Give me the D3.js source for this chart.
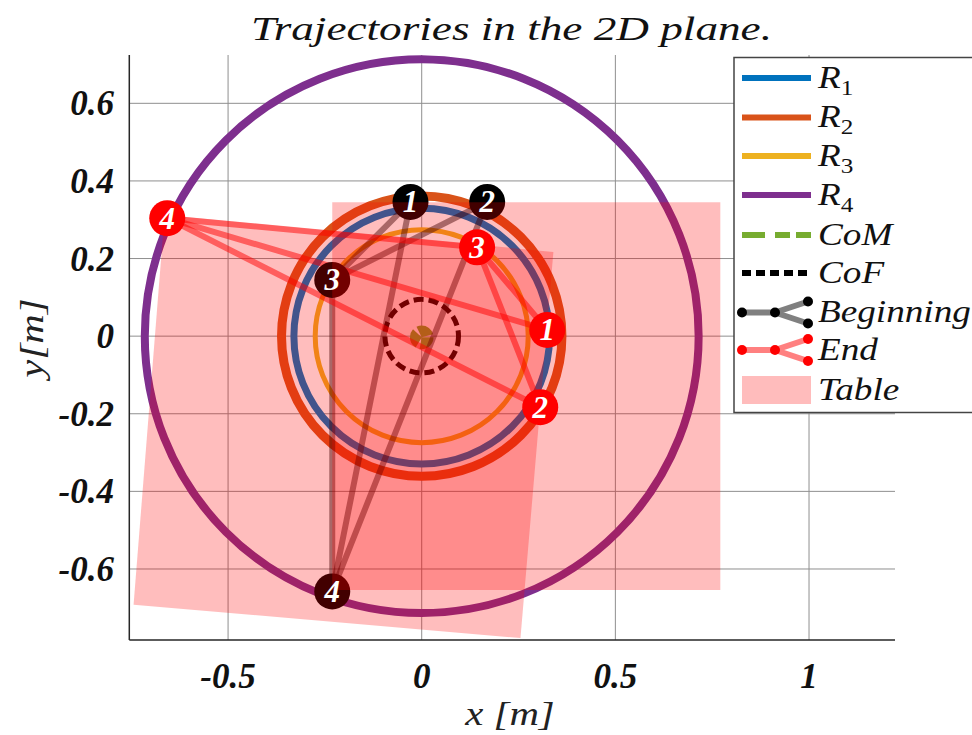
<!DOCTYPE html>
<html>
<head>
<meta charset="utf-8">
<script src="https://cdn.jsdelivr.net/npm/d3@7"></script>
<style>
  html, body { margin: 0; padding: 0; background: #ffffff; }
  svg { display: block; }
</style>
</head>
<body>
<svg id="chart" width="972" height="735"></svg>
<script>
// ---- data -------------------------------------------------------------
const robotNames   = ["R1", "R2", "R3", "R4"];
const robotRadii   = [0.330, 0.362, 0.275, 0.715];   // circular trajectories, centred at origin
const comRadius    = 0.015;                           // centre of mass trajectory
const cofRadius    = 0.095;                           // centre of formation trajectory

const contactIds   = [1, 2, 3, 4];
const beginX       = [-0.029, 0.169, -0.231, -0.231];
const beginY       = [ 0.346, 0.346,  0.145, -0.658];
const endX         = [ 0.324, 0.306,  0.143, -0.657];
const endY         = [ 0.016, -0.183, 0.229,  0.304];
const contactLinks = [[4, 1], [4, 2], [4, 3], [3, 1], [3, 2]];

const beginTableX  = [-0.231, 0.771, 0.771, -0.231];
const beginTableY  = [ 0.345, 0.345, -0.654, -0.654];
const endTableX    = [-0.664, 0.340, 0.255, -0.744];
const endTableY    = [ 0.312, 0.217, -0.778, -0.692];

const xTicks       = [-0.5, 0, 0.5, 1];
const xTickLabels  = ["-0.5", "0", "0.5", "1"];
const yTicks       = [-0.6, -0.4, -0.2, 0, 0.2, 0.4, 0.6];
const yTickLabels  = ["-0.6", "-0.4", "-0.2", "0", "0.2", "0.4", "0.6"];
const xDomain      = [-0.755, 1.222];
const yDomain      = [-0.783, 0.7245];

// ---- styles -----------------------------------------------------------
const robotColors  = ["#0072BD", "#D95319", "#EDB120", "#7E2F8E"];
const robotWidths  = [7, 9, 5, 8];
const comColor     = "#77AC30";
const tableFill    = "rgba(255,0,0,0.26)";
const mathFont     = "'Liberation Serif', 'Times New Roman', serif";
const tickFont     = "'Liberation Serif', 'Times New Roman', serif";
const mathStretch  = 1.2;   // widen Times italic towards a Computer Modern look

const plot = { left: 129.3, right: 895, top: 55, bottom: 640 };

const svg = d3.select("#chart");
const x = d3.scaleLinear().domain(xDomain).range([plot.left, plot.right]);
const y = d3.scaleLinear().domain(yDomain).range([plot.bottom, plot.top]);
const pxPerUnit = x(1) - x(0);

// horizontal stretch of a text element about a fixed x position
function stretchX(sel, cx, k) {
  sel.attr("transform", `translate(${cx},0) scale(${k},1) translate(${-cx},0)`);
}

svg.append("defs").append("clipPath").attr("id", "plotClip")
  .append("rect")
  .attr("x", plot.left).attr("y", plot.top)
  .attr("width", plot.right - plot.left).attr("height", plot.bottom - plot.top);

// ---- grid -------------------------------------------------------------
const grid = svg.append("g");
grid.selectAll("line.gx").data(xTicks).join("line")
  .attr("x1", d => x(d)).attr("x2", d => x(d))
  .attr("y1", plot.top).attr("y2", plot.bottom)
  .attr("stroke", "#8f8f8f").attr("stroke-width", 1);
grid.selectAll("line.gy").data(yTicks).join("line")
  .attr("x1", plot.left).attr("x2", plot.right)
  .attr("y1", d => y(d)).attr("y2", d => y(d))
  .attr("stroke", "#8f8f8f").attr("stroke-width", 1);

const layer = svg.append("g").attr("clip-path", "url(#plotClip)");

// ---- robot trajectories -------------------------------------------------
layer.selectAll("circle.robot").data(robotNames).join("circle")
  .attr("cx", x(0)).attr("cy", y(0))
  .attr("r", (d, i) => robotRadii[i] * pxPerUnit)
  .attr("fill", "none")
  .attr("stroke", (d, i) => robotColors[i])
  .attr("stroke-width", (d, i) => robotWidths[i]);

// centre of mass and centre of formation
layer.append("circle")
  .attr("cx", x(0)).attr("cy", y(-0.003)).attr("r", comRadius * pxPerUnit)
  .attr("fill", "none").attr("stroke", comColor).attr("stroke-width", 12)
  .attr("stroke-dasharray", "10,2");
layer.append("circle")
  .attr("cx", x(0)).attr("cy", y(0)).attr("r", cofRadius * pxPerUnit)
  .attr("fill", "none").attr("stroke", "#000").attr("stroke-width", 5)
  .attr("stroke-dasharray", "10,5");

// ---- contact configurations ------------------------------------------
function drawConfig(xs, ys, lineColor) {
  layer.append("g").selectAll("line").data(contactLinks).join("line")
    .attr("x1", d => x(xs[d[0] - 1])).attr("y1", d => y(ys[d[0] - 1]))
    .attr("x2", d => x(xs[d[1] - 1])).attr("y2", d => y(ys[d[1] - 1]))
    .attr("stroke", lineColor).attr("stroke-width", 6)
    .attr("stroke-linecap", "round");
}
drawConfig(beginX, beginY, "rgba(0,0,0,0.45)");
drawConfig(endX, endY, "rgba(255,0,0,0.5)");

function drawMarkers(xs, ys, color) {
  layer.append("g").selectAll("circle").data(contactIds).join("circle")
    .attr("cx", (d, i) => x(xs[i])).attr("cy", (d, i) => y(ys[i]))
    .attr("r", 18).attr("fill", color);
}
drawMarkers(beginX, beginY, "#000000");
drawMarkers(endX, endY, "#ff0000");

// ---- tables (semi-transparent, drawn over the trajectories) ------------
const polyLine = d3.line().x(d => x(d[0])).y(d => y(d[1]));
[[beginTableX, beginTableY], [endTableX, endTableY]].forEach(([tx, ty]) => {
  const pts = tx.map((v, i) => [v, ty[i]]);
  layer.append("path").attr("d", polyLine(pts) + "Z").attr("fill", tableFill);
});

// marker numbers
function drawNumbers(xs, ys) {
  layer.append("g").selectAll("text").data(contactIds).join("text")
    .attr("x", (d, i) => x(xs[i])).attr("y", (d, i) => y(ys[i]) + 10.5)
    .attr("text-anchor", "middle")
    .attr("font-family", tickFont).attr("font-style", "italic").attr("font-weight", "bold")
    .attr("font-size", 31).attr("fill", "#ffffff")
    .text(d => d);
}
drawNumbers(beginX, beginY);
drawNumbers(endX, endY);

// ---- axes -------------------------------------------------------------
const axes = svg.append("g");
axes.append("line").attr("x1", plot.left).attr("x2", plot.left)
  .attr("y1", plot.top).attr("y2", plot.bottom)
  .attr("stroke", "#262626").attr("stroke-width", 1.5);
axes.append("line").attr("x1", plot.left).attr("x2", plot.right)
  .attr("y1", plot.bottom).attr("y2", plot.bottom)
  .attr("stroke", "#262626").attr("stroke-width", 1.5);

axes.selectAll("text.xt").data(xTicks).join("text")
  .attr("x", d => x(d)).attr("y", 688)
  .attr("text-anchor", "middle")
  .attr("font-family", tickFont).attr("font-style", "italic").attr("font-weight", "bold")
  .attr("font-size", 35).attr("fill", "#111")
  .text((d, i) => xTickLabels[i]);
axes.selectAll("text.yt").data(yTicks).join("text")
  .attr("x", 114).attr("y", d => y(d) + 12)
  .attr("text-anchor", "end")
  .attr("font-family", tickFont).attr("font-style", "italic").attr("font-weight", "bold")
  .attr("font-size", 35).attr("fill", "#111")
  .text((d, i) => yTickLabels[i]);

// chart title, stretched to its full width
const title = svg.append("text").attr("x", 511.5).attr("y", 40).attr("text-anchor", "middle")
  .attr("font-family", mathFont).attr("font-style", "italic")
  .attr("font-size", 33).attr("fill", "#111")
  .text("Trajectories in the 2D plane.");
stretchX(title, 511.5, 521 / title.node().getComputedTextLength());

const xLabel = svg.append("text").attr("x", 510).attr("y", 725).attr("text-anchor", "middle")
  .attr("font-family", mathFont).attr("font-style", "italic")
  .attr("font-size", 34).attr("fill", "#222")
  .text("x [m]");
stretchX(xLabel, 510, mathStretch);

svg.append("text")
  .attr("transform", `translate(43,338) rotate(-90) scale(${mathStretch},1)`)
  .attr("text-anchor", "middle")
  .attr("font-family", mathFont).attr("font-style", "italic")
  .attr("font-size", 34).attr("fill", "#222")
  .text("y[m]");

// ---- legend -----------------------------------------------------------
const legend = svg.append("g");
legend.append("rect")
  .attr("x", 734).attr("y", 57.5).attr("width", 260).attr("height", 355)
  .attr("fill", "#fff").attr("stroke", "#444").attr("stroke-width", 1.5);

const legendRows = [78, 117.5, 156, 195, 235, 273, 312.5, 350, 390];
const lx0 = 742, lx1 = 811, ltx = 818;

function legendLabel(rowY, main, sub) {
  const t = legend.append("text").attr("x", ltx).attr("y", rowY + 10)
    .attr("font-family", mathFont).attr("font-style", "italic")
    .attr("font-size", 31).attr("fill", "#111").text(main);
  if (sub) {
    t.append("tspan").attr("dy", 7).attr("font-size", 21).attr("font-style", "normal").text(sub);
  }
  stretchX(t, ltx, mathStretch);
}

robotNames.forEach((name, i) => {
  legend.append("line").attr("x1", lx0).attr("x2", lx1)
    .attr("y1", legendRows[i]).attr("y2", legendRows[i])
    .attr("stroke", robotColors[i]).attr("stroke-width", 6);
  legendLabel(legendRows[i], "R", name.slice(1));
});

legend.append("line").attr("x1", lx0).attr("x2", lx1)
  .attr("y1", legendRows[4]).attr("y2", legendRows[4])
  .attr("stroke", comColor).attr("stroke-width", 6).attr("stroke-dasharray", "23,10,15,6");
legendLabel(legendRows[4], "CoM");

legend.append("line").attr("x1", lx0).attr("x2", lx1)
  .attr("y1", legendRows[5]).attr("y2", legendRows[5])
  .attr("stroke", "#000").attr("stroke-width", 6).attr("stroke-dasharray", "9,5");
legendLabel(legendRows[5], "CoF");

function legendFork(rowY, lineColor, dotColor) {
  const pts = [[lx0, rowY], [775, rowY], [808, rowY - 11], [808, rowY + 11]];
  const segs = [[0, 1], [1, 2], [1, 3]];
  legend.append("g").selectAll("line").data(segs).join("line")
    .attr("x1", d => pts[d[0]][0]).attr("y1", d => pts[d[0]][1])
    .attr("x2", d => pts[d[1]][0]).attr("y2", d => pts[d[1]][1])
    .attr("stroke", lineColor).attr("stroke-width", 6);
  legend.append("g").selectAll("circle").data(pts).join("circle")
    .attr("cx", d => d[0]).attr("cy", d => d[1]).attr("r", 5).attr("fill", dotColor);
}
legendFork(legendRows[6], "#808080", "#000");
legendLabel(legendRows[6], "Beginning");
legendFork(legendRows[7], "#ff8080", "#ff0000");
legendLabel(legendRows[7], "End");

legend.append("rect").attr("x", lx0).attr("y", legendRows[8] - 14)
  .attr("width", lx1 - lx0).attr("height", 28).attr("fill", "#ffbcbc");
legendLabel(legendRows[8], "Table");
</script>
</body>
</html>
